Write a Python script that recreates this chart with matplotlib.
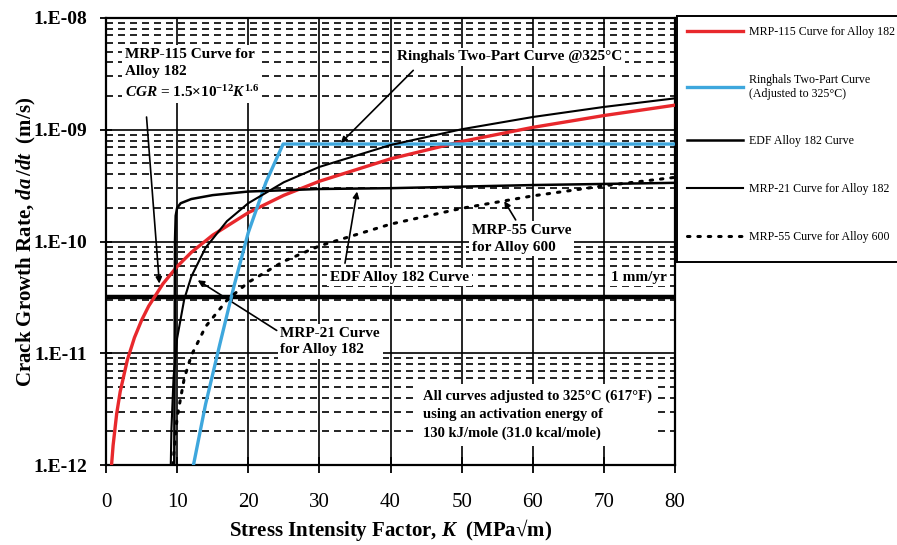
import numpy as np
import matplotlib.pyplot as plt
from matplotlib.ticker import FixedLocator, LogLocator, NullFormatter

plt.rcParams['font.family'] = ['Liberation Serif', 'DejaVu Serif']
plt.rcParams['mathtext.fontset'] = 'custom'
plt.rcParams['mathtext.rm'] = 'Liberation Serif:bold'
plt.rcParams['mathtext.it'] = 'Liberation Serif:italic:bold'
plt.rcParams['mathtext.bf'] = 'Liberation Serif:bold'

# MRP-115 curve for Alloy 182 (red)
k_mrp115 = [0.78, 1, 1.5, 2, 3, 4, 5, 6, 8, 10, 12, 15, 20, 25, 30, 40, 50, 60, 70, 80]
cgr_mrp115 = [1.0e-12, 1.5e-12, 2.87e-12, 4.55e-12, 8.7e-12, 1.38e-11, 1.97e-11, 2.64e-11,
              4.18e-11, 5.97e-11, 8.0e-11, 1.14e-10, 1.81e-10, 2.59e-10, 3.46e-10, 5.49e-10,
              7.85e-10, 1.05e-9, 1.34e-9, 1.66e-9]

# Ringhals two-part curve (blue)
k_ringhals = [12.3, 14, 16, 18, 20, 22.5, 24.9, 80]
cgr_ringhals = [1.0e-12, 3.5e-12, 1.2e-11, 4.0e-11, 1.2e-10, 3.4e-10, 7.45e-10, 7.45e-10]

# EDF Alloy 182 curve
k_edf = [9.6, 9.65, 9.7, 9.8, 10.0, 10.5, 12, 15, 20, 30, 40, 60, 80]
cgr_edf = [1.0e-12, 1.0e-11, 1.0e-10, 1.7e-10, 2.0e-10, 2.2e-10, 2.4e-10, 2.6e-10,
           2.8e-10, 2.95e-10, 3.0e-10, 3.2e-10, 3.35e-10]

# MRP-21 curve for Alloy 182
k_mrp21 = [9.1, 9.2, 9.5, 10, 11, 12, 14, 17, 20, 25, 30, 40, 50, 60, 70, 80]
cgr_mrp21 = [9.4e-13, 2.1e-12, 6.1e-12, 1.36e-11, 3.04e-11, 4.86e-11, 8.8e-11, 1.52e-10,
             2.2e-10, 3.39e-10, 4.65e-10, 7.3e-10, 1.01e-9, 1.30e-9, 1.60e-9, 1.91e-9]

# MRP-55 curve for Alloy 600 (dotted)
k_mrp55 = [9.43, 9.5, 10, 11, 12, 14, 17, 20, 25, 30, 40, 50, 60, 70, 80]
cgr_mrp55 = [1.0e-12, 1.19e-12, 2.67e-12, 5.96e-12, 9.55e-12, 1.73e-11, 2.98e-11, 4.31e-11,
             6.65e-11, 9.13e-11, 1.43e-10, 1.98e-10, 2.56e-10, 3.15e-10, 3.75e-10]

one_mm_per_yr = 3.17e-11

y_ticks = [1e-12, 1e-11, 1e-10, 1e-9, 1e-8]
y_ticklabels = ["1.E-12", "1.E-11", "1.E-10", "1.E-09", "1.E-08"]
x_ticks = [0, 10, 20, 30, 40, 50, 60, 70, 80]

fig = plt.figure(figsize=(8.97, 5.45), dpi=100)
ax = fig.add_axes([106/897, 1-465/545, (675-106)/897, (465-18)/545])

ax.set_yscale('log')
ax.set_xlim(0, 80)
ax.set_ylim(1e-12, 1e-8)
ax.set_axisbelow(True)

ax.yaxis.set_major_locator(FixedLocator(y_ticks))
ax.set_yticklabels(y_ticklabels, fontsize=14, fontweight='bold')
ax.yaxis.set_minor_locator(LogLocator(base=10, subs=np.arange(2, 10)))
ax.yaxis.set_minor_formatter(NullFormatter())
ax.set_xticks(x_ticks)
ax.set_xticklabels([str(v) for v in x_ticks], fontsize=15)
ax.tick_params(axis='y', which='major', direction='inout', length=9, width=1.3, pad=9)
ax.tick_params(axis='y', which='minor', length=0)
ax.tick_params(axis='x', which='major', direction='inout', length=12, width=1.3, pad=14)

ax.grid(which='major', axis='y', color='k', ls='-', lw=1.2)
ax.grid(which='minor', axis='y', color='k', ls=(0, (4.2, 3)), lw=1.2)
ax.grid(which='major', axis='x', color='k', ls='-', lw=1.2)
for s in ax.spines.values():
    s.set_linewidth(1.6)

ax.axhline(one_mm_per_yr, color='k', lw=3.2, zorder=2)

l1, = ax.plot(k_mrp115, cgr_mrp115, color='#e8282c', lw=2.4, zorder=4,
              label="MRP-115 Curve for Alloy 182")
l2, = ax.plot(k_ringhals, cgr_ringhals, color='#3ea7dd', lw=2.4, zorder=4,
              label="Ringhals Two-Part Curve\n(Adjusted to 325°C)")
l3, = ax.plot(k_edf, cgr_edf, color='k', lw=1.8, zorder=4, label="EDF Alloy 182 Curve")
l4, = ax.plot(k_mrp21, cgr_mrp21, color='k', lw=1.5, zorder=4, label="MRP-21 Curve for Alloy 182")
l5, = ax.plot(k_mrp55, cgr_mrp55, color='k', lw=2.2, ls=(0, (0.8, 2.6)),
              dash_capstyle='round', zorder=4, label="MRP-55 Curve for Alloy 600")

box = dict(facecolor='white', edgecolor='none', pad=2)
arrow = dict(arrowstyle='-|>', color='k', lw=1.2, mutation_scale=9, shrinkA=0, shrinkB=0)
tkw = dict(fontsize=11, fontweight='bold', bbox=box, zorder=3)

ax.text(2.67, 5.4e-9, "MRP-115 Curve for\nAlloy 182\n" + r"$CGR$ = 1.5×10$^{-12}$$K^{1.6}$",
        va='top', ha='left', linespacing=1.45, **tkw)
ax.annotate('', xy=(7.5, 4.2e-11), xytext=(5.7, 1.3e-9), arrowprops=arrow)

ax.text(40.9, 4.48e-9, "Ringhals Two-Part Curve @325°C", va='center', ha='left', **tkw)
ax.annotate('', xy=(33, 7.6e-10), xytext=(43.2, 3.4e-9), arrowprops=arrow)

ax.text(51.4, 1.43e-10, "MRP-55 Curve\nfor Alloy 600", va='top', ha='left', linespacing=1.35, **tkw)
ax.annotate('', xy=(56, 2.3e-10), xytext=(57.6, 1.56e-10), arrowprops=arrow)

ax.text(31.5, 4.8e-11, "EDF Alloy 182 Curve", va='center', ha='left', **tkw)
ax.annotate('', xy=(35.3, 2.8e-10), xytext=(33.6, 6.4e-11), arrowprops=arrow)

ax.text(24.5, 1.72e-11, "MRP-21 Curve\nfor Alloy 182", va='top', ha='left', linespacing=1.35, **tkw)
ax.annotate('', xy=(12.9, 4.5e-11), xytext=(24.0, 1.6e-11), arrowprops=arrow)

ax.text(44.6, 4.69e-12, "All curves adjusted to 325°C (617°F)\nusing an activation energy of\n"
        "130 kJ/mole (31.0 kcal/mole)", va='top', ha='left', linespacing=1.5,
        fontsize=10.5, fontweight='bold', bbox=dict(facecolor='white', edgecolor='none', pad=4),
        zorder=3)

ax.text(74.9, 4.8e-11, "1 mm/yr", va='center', ha='center', **tkw)

ax.set_xlabel(r"Stress Intensity Factor, $K$  (MPa√m)", fontsize=15, fontweight='bold', labelpad=4)
ax.set_ylabel(r"Crack Growth Rate, $da\,/dt$  (m/s)", fontsize=15, fontweight='bold', labelpad=-3)

# legend panel at the right, open on its right side
lax = fig.add_axes([677/897, 1-262/545, (900-677)/897, 246/545])
lax.set_xticks([])
lax.set_yticks([])
lax.spines['right'].set_visible(False)
for s in ['top', 'bottom', 'left']:
    lax.spines[s].set_linewidth(1.4)
handles = [l1, l2, l3, l4, l5]
lax.legend(handles, [h.get_label() for h in handles], loc='upper left',
           bbox_to_anchor=(0.045, 1-10/246), borderaxespad=0, borderpad=0, frameon=False,
           fontsize=8.6, handlelength=4.65, handletextpad=0.55, labelspacing=3.0)

fig.savefig("out.png", dpi=100)
